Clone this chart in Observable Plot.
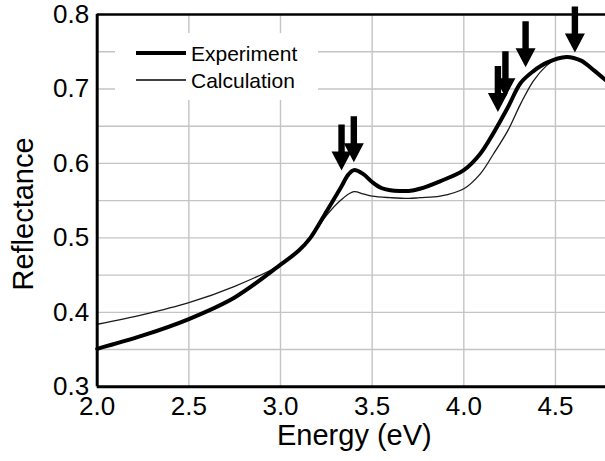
<!DOCTYPE html>
<html>
<head>
<meta charset="utf-8">
<script src="https://cdn.jsdelivr.net/npm/d3@7"></script>
<script src="https://cdn.jsdelivr.net/npm/@observablehq/plot@0.6"></script>
<style>
  html, body { margin: 0; padding: 0; background: #fff; }
</style>
</head>
<body>
<div id="chart"></div>
<script>
// Energy (eV) sample points and reflectance values
const expEnergy = [2.0, 2.25, 2.5, 2.75, 3.0, 3.1, 3.163, 3.25, 3.33, 3.37, 3.40, 3.45, 3.5, 3.55, 3.6, 3.65, 3.7, 3.76, 3.87, 4.0, 4.09, 4.16, 4.24, 4.31, 4.38, 4.45, 4.56, 4.64, 4.71, 4.773];
const expReflectance = [0.351, 0.369, 0.391, 0.420, 0.464, 0.483, 0.500, 0.535, 0.568, 0.585, 0.591, 0.586, 0.575, 0.567, 0.564, 0.563, 0.563, 0.566, 0.576, 0.591, 0.613, 0.640, 0.675, 0.708, 0.724, 0.735, 0.743, 0.738, 0.725, 0.712];

const calcEnergy = [2.0, 2.25, 2.5, 2.75, 3.0, 3.1, 3.163, 3.25, 3.33, 3.40, 3.45, 3.5, 3.6, 3.7, 3.76, 3.87, 4.0, 4.09, 4.16, 4.24, 4.31, 4.38, 4.45, 4.49, 4.56, 4.64, 4.71, 4.773];
const calcReflectance = [0.384, 0.397, 0.413, 0.435, 0.464, 0.484, 0.500, 0.530, 0.551, 0.562, 0.559, 0.556, 0.554, 0.553, 0.554, 0.556, 0.566, 0.586, 0.612, 0.644, 0.680, 0.711, 0.731, 0.738, 0.743, 0.738, 0.725, 0.712];

// Arrow tips (energy, reflectance)
const arrowEnergy = [3.333, 3.400, 4.186, 4.227, 4.337, 4.606];
const arrowReflectance = [0.5905, 0.6016, 0.669, 0.689, 0.729, 0.749];

const xTicks = [2.0, 2.5, 3.0, 3.5, 4.0, 4.5];
const yTicks = [0.3, 0.4, 0.5, 0.6, 0.7, 0.8];
const xGrid = [2.5, 3.0, 3.5, 4.0, 4.5];
const yGrid = [0.35, 0.4, 0.45, 0.5, 0.55, 0.6, 0.65, 0.7, 0.75];

const seriesNames = ["Experiment", "Calculation"];
const xLabel = "Energy (eV)";
const yLabel = "Reflectance";

const expData = expEnergy.map((e, i) => ({E: e, R: expReflectance[i]}));
const calcData = calcEnergy.map((e, i) => ({E: e, R: calcReflectance[i]}));
const arrowData = arrowEnergy.map((e, i) => ({E: e, R: arrowReflectance[i]}));

// Down-pointing filled arrow, tip at origin
const arrowSymbol = {
  draw(ctx) {
    ctx.moveTo(0, 0);
    ctx.lineTo(-10, -19);
    ctx.lineTo(-3.2, -19);
    ctx.lineTo(-3.2, -46);
    ctx.lineTo(3.2, -46);
    ctx.lineTo(3.2, -19);
    ctx.lineTo(10, -19);
    ctx.closePath();
  }
};

const fmt = d3.format(".1f");

const chart = Plot.plot({
  width: 605,
  height: 461,
  marginLeft: 96.7,
  marginRight: 0,
  marginTop: 14,
  marginBottom: 74.7,
  style: {fontFamily: "'Liberation Sans', Arial, sans-serif", fontSize: "26px", color: "black", background: "white"},
  x: {domain: [2, 4.773]},
  y: {domain: [0.3, 0.8]},
  marks: [
    Plot.ruleX(xGrid, {stroke: "#c4c4c4", strokeWidth: 1.4}),
    Plot.ruleY(yGrid, {stroke: "#c4c4c4", strokeWidth: 1.4}),
    Plot.axisX({ticks: xTicks, tickFormat: fmt, tickSize: 0, tickPadding: 10, label: null, fontSize: 26}),
    Plot.axisY({ticks: yTicks, tickFormat: fmt, tickSize: 0, tickPadding: 8, label: null, fontSize: 26}),
    Plot.line(calcData, {x: "E", y: "R", stroke: "#1a1a1a", strokeWidth: 1.3, curve: "catmull-rom"}),
    Plot.line(expData, {x: "E", y: "R", stroke: "black", strokeWidth: 4, curve: "catmull-rom"}),
    Plot.ruleX([2], {stroke: "black", strokeWidth: 3}),
    Plot.ruleY([0.3], {stroke: "black", strokeWidth: 3}),
    Plot.ruleY([0.8], {stroke: "black", strokeWidth: 2.3}),
    Plot.dot(arrowData, {x: "E", y: "R", symbol: arrowSymbol, fill: "black", stroke: "none"}),
    Plot.text([xLabel], {frameAnchor: "bottom", textAnchor: "middle", lineAnchor: "middle", dy: 49, dx: 3, fontSize: 29, fill: "black"}),
    Plot.text([yLabel], {frameAnchor: "left", textAnchor: "middle", lineAnchor: "middle", rotate: -90, dx: -73, dy: 13.3, fontSize: 29, fill: "black"})
  ]
});

// Legend box inside the plot area
const svg = d3.select(chart);
const lg = svg.append("g").attr("class", "legend");
lg.append("rect").attr("x", 115).attr("y", 33).attr("width", 203).attr("height", 67).attr("fill", "white");
const legendRows = [
  {name: seriesNames[0], y: 53, w: 4},
  {name: seriesNames[1], y: 80, w: 1.3}
];
legendRows.forEach(r => {
  lg.append("line").attr("x1", 136).attr("x2", 186).attr("y1", r.y).attr("y2", r.y)
    .attr("stroke", "black").attr("stroke-width", r.w);
  lg.append("text").attr("x", 191).attr("y", r.y + 7.8)
    .attr("text-anchor", "start").attr("font-size", 21).attr("fill", "black").text(r.name);
});

document.getElementById("chart").appendChild(chart);
</script>
</body>
</html>
